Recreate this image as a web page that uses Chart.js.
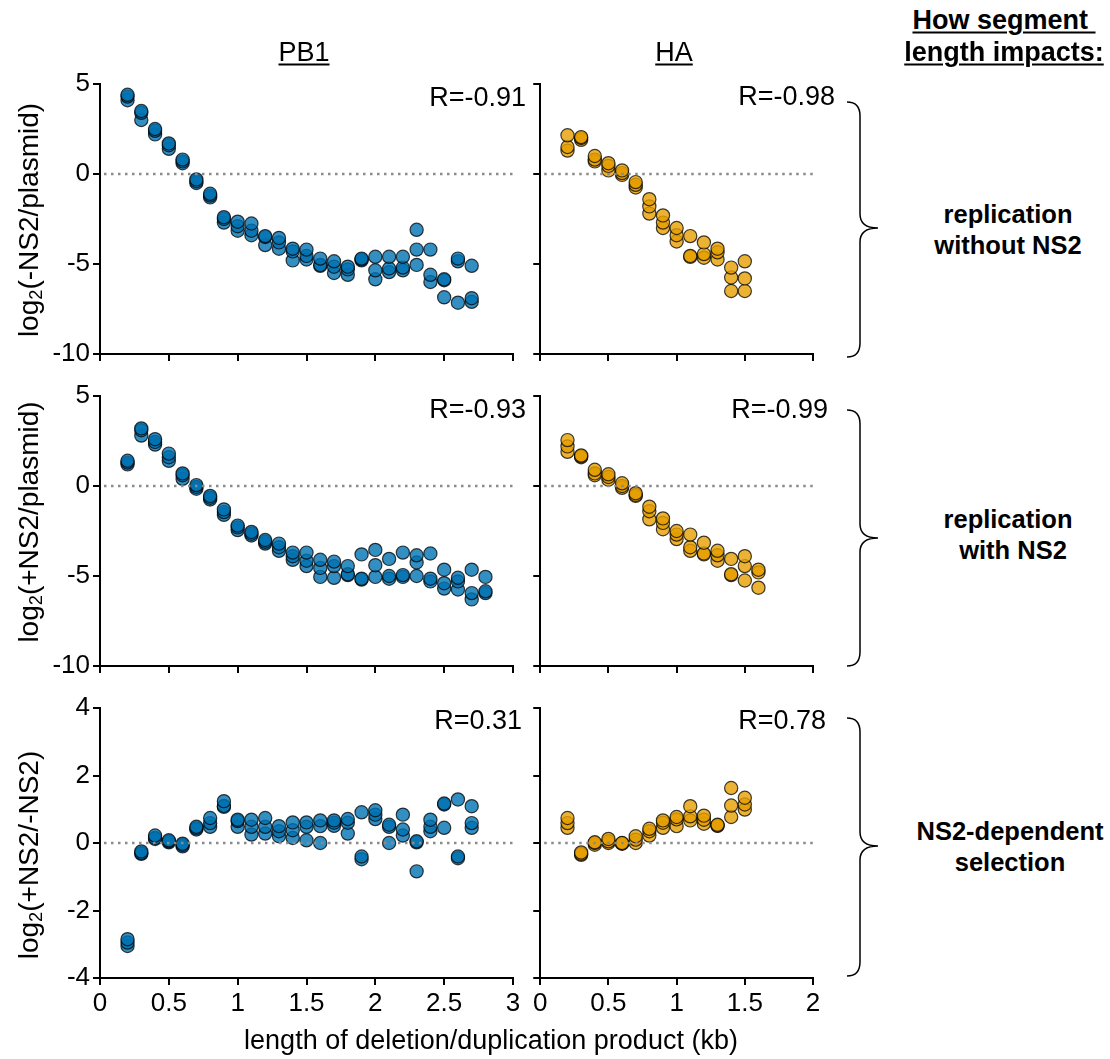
<!DOCTYPE html>
<html>
<head>
<meta charset="utf-8">
<script src="https://cdn.jsdelivr.net/npm/chart.js@4.4.1/dist/chart.umd.min.js"></script>
<style>
  body { margin: 0; background: #fff; font-family: "Liberation Sans", Arial, Helvetica, sans-serif; }
  #wrap { position: relative; width: 1110px; height: 1059px; overflow: hidden; }
  canvas { position: absolute; }
  .t { position: absolute; white-space: nowrap; color: #000; line-height: 1; }
  .c { transform: translate(-50%, -50%); }
  .r { transform: translate(-100%, -50%); }
  .rot { transform: translate(-50%, -50%) rotate(-90deg); }
  .b { font-weight: bold; }
  .u { text-decoration: underline; text-decoration-thickness: 2px; text-underline-offset: 3px; }
  sub { font-size: 65%; vertical-align: -0.25em; }
</style>
</head>
<body>
<div id="wrap">
  <canvas id="pb1Minus" width="525" height="310" style="left:0;top:64px"></canvas>
  <canvas id="haMinus" width="295" height="310" style="left:530px;top:64px"></canvas>
  <canvas id="pb1Plus" width="525" height="310" style="left:0;top:376px"></canvas>
  <canvas id="haPlus" width="295" height="310" style="left:530px;top:376px"></canvas>
  <canvas id="pb1Ratio" width="525" height="340" style="left:0;top:688px"></canvas>
  <canvas id="haRatio" width="295" height="340" style="left:530px;top:688px"></canvas>

  <div class="t c u" style="left:304px;top:52px;font-size:27px">PB1</div>
  <div class="t c u" style="left:674px;top:52px;font-size:27px">HA</div>

  <div class="t r" style="left:526px;top:97px;font-size:27px">R=-0.91</div>
  <div class="t r" style="left:835px;top:96px;font-size:27px">R=-0.98</div>
  <div class="t r" style="left:526px;top:409px;font-size:27px">R=-0.93</div>
  <div class="t r" style="left:828px;top:409px;font-size:27px">R=-0.99</div>
  <div class="t r" style="left:522px;top:720px;font-size:27px">R=0.31</div>
  <div class="t r" style="left:826px;top:720px;font-size:27px">R=0.78</div>

  <div class="t rot" style="left:30px;top:220px;font-size:28px">log<sub>2</sub>(-NS2/plasmid)</div>
  <div class="t rot" style="left:30px;top:522px;font-size:28px">log<sub>2</sub>(+NS2/plasmid)</div>
  <div class="t rot" style="left:30px;top:855px;font-size:28px">log<sub>2</sub>(+NS2/-NS2)</div>

  <div class="t c" style="left:491px;top:1040px;font-size:27px">length of deletion/duplication product (kb)</div>

  <div class="t c b u" style="left:1004px;top:20px;font-size:27px">How segment&nbsp;</div>
  <div class="t c b u" style="left:1004px;top:52px;font-size:27px">length impacts:</div>

  <div class="t c b" style="left:1008px;top:215px;font-size:25.5px">replication</div>
  <div class="t c b" style="left:1008px;top:246px;font-size:25.5px">without NS2</div>
  <div class="t c b" style="left:1008px;top:520px;font-size:25.5px">replication</div>
  <div class="t c b" style="left:1013px;top:551px;font-size:25.5px">with NS2</div>
  <div class="t c b" style="left:1010px;top:832px;font-size:25.5px">NS2-dependent</div>
  <div class="t c b" style="left:1010px;top:863px;font-size:25.5px">selection</div>

  <svg width="1110" height="1059" style="position:absolute;left:0;top:0" fill="none" stroke="#000" stroke-width="1.5">
    <path d="M847,102 Q860,102 860,116 L860,214 Q860,228 878,228 Q860,228 860,242 L860,343 Q860,357 847,357"/>
    <path d="M847,410 Q860,410 860,424 L860,524 Q860,538 878,538 Q860,538 860,552 L860,652 Q860,666 847,666"/>
    <path d="M847,718 Q860,718 860,732 L860,832 Q860,846 878,846 Q860,846 860,860 L860,962 Q860,976 847,976"/>
  </svg>
</div>

<script>
// x positions (kb)
const pb1Len = [0.2, 0.3, 0.4, 0.5, 0.6, 0.7, 0.8, 0.9, 1.0, 1.1, 1.2, 1.3, 1.4, 1.5, 1.6, 1.7, 1.8, 1.9, 2.0, 2.1, 2.2, 2.3, 2.4, 2.5, 2.6, 2.7];
const pb1LenPlus = [0.2, 0.3, 0.4, 0.5, 0.6, 0.7, 0.8, 0.9, 1.0, 1.1, 1.2, 1.3, 1.4, 1.5, 1.6, 1.7, 1.8, 1.9, 2.0, 2.1, 2.2, 2.3, 2.4, 2.5, 2.6, 2.7, 2.8];
const haLen = [0.2, 0.3, 0.4, 0.5, 0.6, 0.7, 0.8, 0.9, 1.0, 1.1, 1.2, 1.3, 1.4, 1.5];
const haLenPlus = [0.2, 0.3, 0.4, 0.5, 0.6, 0.7, 0.8, 0.9, 1.0, 1.1, 1.2, 1.3, 1.4, 1.5, 1.6];

// PB1, log2(-NS2/plasmid), three replicates
const pb1MinusA = [4.4, 3.5, 2.5, 1.7, 0.8, -0.3, -1.1, -2.4, -2.65, -2.75, -3.45, -3.55, -4.15, -4.2, -4.7, -4.85, -5.15, -4.7, -4.6, -4.6, -4.6, -3.1, -4.2, -5.85, -4.7, -5.1];
const pb1MinusB = [4.3, 3.4, 2.4, 1.6, 0.7, -0.4, -1.2, -2.5, -2.9, -3.15, -3.5, -3.8, -4.3, -4.55, -5.05, -5.15, -5.3, -4.75, -5.35, -5.25, -5.2, -4.2, -5.6, -5.9, -4.85, -6.9];
const pb1MinusC = [4.1, 3.0, 2.2, 1.4, 0.6, -0.5, -1.3, -2.7, -3.15, -3.4, -3.95, -4.15, -4.8, -4.75, -5.1, -5.5, -5.6, -4.8, -5.85, -5.45, -5.35, -5.05, -6.0, -6.85, -7.15, -7.1];

// HA, log2(-NS2/plasmid)
const haMinusA = [2.15, 2.05, 1.0, 0.6, 0.2, -0.45, -1.4, -2.3, -3.0, -3.45, -3.8, -4.15, -5.2, -4.85];
const haMinusB = [1.5, 2.0, 0.8, 0.45, 0.05, -0.6, -1.8, -2.7, -3.4, -4.55, -4.45, -4.35, -5.75, -5.8];
const haMinusC = [1.3, 1.9, 0.7, 0.2, -0.05, -0.75, -2.2, -3.0, -3.75, -4.6, -4.65, -4.75, -6.5, -6.5];

// PB1, log2(+NS2/plasmid)
const pb1PlusA = [1.4, 3.2, 2.6, 1.8, 0.7, 0.05, -0.55, -1.3, -2.2, -2.55, -3.0, -3.2, -3.7, -3.7, -4.1, -4.2, -4.45, -3.8, -3.55, -4.05, -3.7, -3.85, -3.75, -4.65, -5.1, -4.65, -5.05];
const pb1PlusB = [1.3, 3.1, 2.45, 1.6, 0.6, -0.05, -0.65, -1.45, -2.3, -2.65, -3.1, -3.4, -3.9, -4.15, -4.55, -4.45, -4.9, -5.15, -4.4, -5.0, -4.95, -4.25, -5.15, -5.4, -5.3, -5.95, -5.85];
const pb1PlusC = [1.2, 2.8, 2.3, 1.4, 0.4, -0.15, -0.75, -1.6, -2.45, -2.75, -3.2, -3.6, -4.1, -4.45, -5.05, -5.1, -4.95, -5.2, -5.05, -5.15, -5.05, -5.0, -5.3, -5.7, -5.75, -6.3, -5.95];

// HA, log2(+NS2/plasmid)
const haPlusA = [2.55, 1.7, 0.9, 0.65, 0.15, -0.4, -1.15, -1.8, -2.5, -2.7, -3.15, -3.6, -4.05, -3.9, -4.65];
const haPlusB = [2.2, 1.65, 0.7, 0.5, 0.0, -0.5, -1.4, -2.05, -2.7, -3.4, -3.75, -3.85, -4.9, -4.45, -4.8];
const haPlusC = [1.9, 1.6, 0.6, 0.35, -0.1, -0.55, -1.85, -2.4, -2.95, -3.6, -3.8, -4.15, -4.95, -5.25, -5.65];

// PB1, log2(+NS2/-NS2)
const pb1RatioA = [-2.85, -0.25, 0.22, 0.08, -0.02, 0.48, 0.74, 1.24, 0.69, 0.69, 0.74, 0.5, 0.61, 0.61, 0.67, 0.67, 0.71, 0.91, 0.97, 0.54, 0.84, 0.05, 0.69, 1.17, 1.29, 1.09];
const pb1RatioB = [-2.95, -0.3, 0.15, 0.05, -0.06, 0.44, 0.59, 1.1, 0.65, 0.48, 0.48, 0.35, 0.38, 0.48, 0.5, 0.6, 0.6, -0.4, 0.84, 0.48, 0.4, 0.02, 0.48, 1.14, -0.4, 0.59];
const pb1RatioC = [-3.05, -0.32, 0.12, 0.02, -0.1, 0.4, 0.48, 1.07, 0.48, 0.25, 0.28, 0.2, 0.15, 0.08, 0.0, 0.51, 0.28, -0.48, 0.71, 0.0, 0.22, -0.84, 0.35, 0.45, -0.45, 0.45];

// HA, log2(+NS2/-NS2)
const haRatioA = [0.74, -0.28, 0.02, 0.12, 0.0, 0.2, 0.42, 0.67, 0.77, 1.09, 0.81, 0.54, 1.63, 1.34];
const haRatioB = [0.59, -0.32, 0.0, 0.05, -0.01, 0.1, 0.35, 0.6, 0.7, 0.79, 0.69, 0.52, 1.11, 1.14];
const haRatioC = [0.45, -0.35, -0.05, 0.0, -0.02, 0.0, 0.22, 0.45, 0.5, 0.67, 0.57, 0.51, 0.77, 0.99];

const BLUE = 'rgba(0, 114, 178, 0.8)';
const ORANGE = 'rgba(230, 159, 0, 0.8)';
const FONT = '"Liberation Sans", Arial, Helvetica, sans-serif';

Chart.defaults.font.family = FONT;
Chart.defaults.color = '#000';

// dotted reference line at y = 0, drawn over the points like in the figure
const zeroLine = {
  id: 'zeroLine',
  afterDatasetsDraw(chart) {
    const { ctx, chartArea, scales } = chart;
    const y = scales.y.getPixelForValue(0);
    ctx.save();
    ctx.strokeStyle = '#8a8a8a';
    ctx.lineWidth = 2.5;
    ctx.setLineDash([2.5, 4.5]);
    ctx.beginPath();
    ctx.moveTo(chartArea.left + 4, y);
    ctx.lineTo(chartArea.right, y);
    ctx.stroke();
    ctx.restore();
  }
};

function makePanel(id, xs, reps, color, yMin, yMax, yStep, xMax, leftCol, bottomRow) {
  const datasets = reps.map(rep => ({
    data: xs.map((x, i) => ({ x, y: rep[i] })),
    backgroundColor: color,
    borderColor: 'rgba(0, 0, 0, 0.75)',
    borderWidth: 1.2,
    pointRadius: 6.6,
    clip: false,
  }));

  return new Chart(document.getElementById(id), {
    type: 'scatter',
    data: { datasets },
    options: {
      responsive: false,
      animation: false,
      layout: { padding: { top: 20, right: 12 } },
      plugins: { legend: { display: false }, tooltip: { enabled: false } },
      scales: {
        x: {
          type: 'linear',
          min: 0,
          max: xMax,
          ticks: {
            stepSize: 0.5,
            autoSkip: false,
            maxRotation: 0,
            padding: 3,
            color: bottomRow ? '#000' : 'transparent',
            font: { size: 26 },
            callback: v => String(v),
          },
          grid: { drawOnChartArea: false, color: '#000', lineWidth: 2, tickLength: 7 },
          border: { color: '#000', width: 2 },
          afterFit: s => { s.height = bottomRow ? 50 : 20; },
        },
        y: {
          min: yMin,
          max: yMax,
          ticks: {
            stepSize: yStep,
            padding: 3,
            color: leftCol ? '#000' : 'transparent',
            font: { size: 26 },
            callback: v => String(v),
          },
          grid: { drawOnChartArea: false, color: '#000', lineWidth: 2, tickLength: 7 },
          border: { color: '#000', width: 2 },
          afterFit: s => { s.width = leftCol ? 100 : 8; },
        },
      },
    },
    plugins: [zeroLine],
  });
}

makePanel('pb1Minus', pb1Len, [pb1MinusA, pb1MinusB, pb1MinusC], BLUE, -10, 5, 5, 3, true, false);
makePanel('haMinus', haLen, [haMinusA, haMinusB, haMinusC], ORANGE, -10, 5, 5, 2, false, false);
makePanel('pb1Plus', pb1LenPlus, [pb1PlusA, pb1PlusB, pb1PlusC], BLUE, -10, 5, 5, 3, true, false);
makePanel('haPlus', haLenPlus, [haPlusA, haPlusB, haPlusC], ORANGE, -10, 5, 5, 2, false, false);
makePanel('pb1Ratio', pb1Len, [pb1RatioA, pb1RatioB, pb1RatioC], BLUE, -4, 4, 2, 3, true, true);
makePanel('haRatio', haLen, [haRatioA, haRatioB, haRatioC], ORANGE, -4, 4, 2, 2, false, true);
</script>
</body>
</html>
